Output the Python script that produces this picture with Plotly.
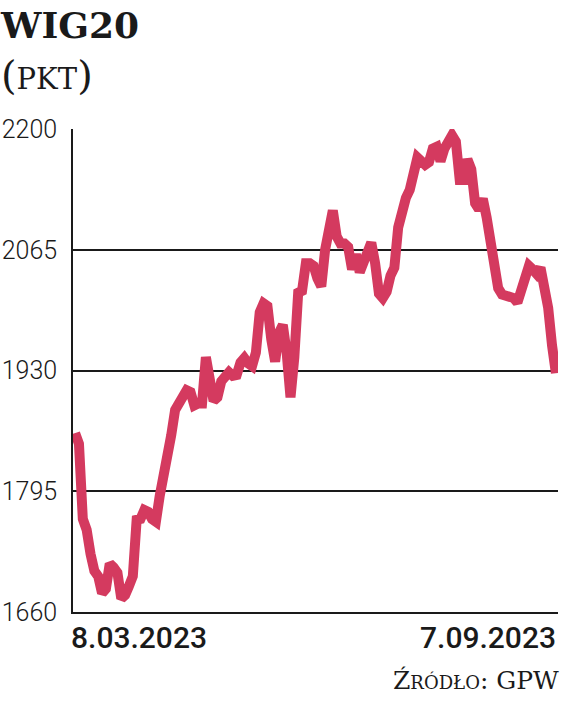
import pandas as pd
import plotly.graph_objects as go

# ---- data ----
start_date = "2023-03-08"
end_date = "2023-09-07"
holidays = ["2023-04-07", "2023-04-10", "2023-05-01", "2023-05-03", "2023-06-08", "2023-08-15"]
values = [
    1860, 1848, 1764, 1752, 1725, 1706, 1700, 1681, 1686, 1714,
    1710, 1704, 1675, 1679, 1689, 1700, 1763, 1764, 1774, 1772,
    1764, 1761, 1790, 1819, 1839, 1858, 1886, 1895, 1903, 1908,
    1906, 1891, 1893, 1893, 1945, 1925, 1896, 1900, 1918, 1923,
    1928, 1924, 1925, 1939, 1944, 1938, 1935, 1950, 1995, 2005,
    2002, 1965, 1940, 1972, 1981, 1950, 1900, 1945, 2017, 2019,
    2050, 2050, 2047, 2033, 2024, 2065, 2095, 2109, 2080, 2072,
    2072, 2068, 2043, 2060, 2040, 2049, 2063, 2073, 2050, 2016,
    2011, 2018, 2036, 2045, 2090, 2114, 2123, 2132, 2156, 2168,
    2164, 2160, 2163, 2178, 2180, 2164, 2178, 2189, 2193, 2186,
    2143, 2143, 2166, 2155, 2117, 2110, 2122, 2101, 2074, 2038,
    2022, 2015, 2014, 2012, 2011, 2006, 2020, 2042, 2047, 2043,
    2038, 2045, 2020, 2000, 1958, 1927,
]
y_ticks = [1660, 1795, 1930, 2065, 2200]
x_labels = ["8.03.2023", "7.09.2023"]
title_text = "WIG20"
unit_text = "PKT"
source_text = "Źródło: GPW"

days = pd.bdate_range(start_date, end_date)
days = [d for d in days if d.strftime("%Y-%m-%d") not in holidays]
dates = [d.strftime("%Y-%m-%d") for d in days][: len(values)]

LINE = "#d43a5f"
INK = "#1a1a1a"
W, H = 564, 702
# plot area in page pixels: left 73, right 558, top 129, bottom 612
ML = 73
MR = W - 558
MT = 129
MB = H - 612
PW = W - ML - MR
PH = H - MT - MB

def px(x):  # page pixel -> paper
    return (x - ML) / PW

def py(y):
    return (H - MB - y) / PH

fig = go.Figure()
fig.add_trace(go.Scatter(
    x=dates, y=values, mode="lines",
    line=dict(color=LINE, width=10, shape="linear"),
    cliponaxis=False, hoverinfo="skip",
))

fig.update_layout(
    width=W, height=H,
    margin=dict(l=ML, r=MR, t=MT, b=MB, pad=0),
    paper_bgcolor="white", plot_bgcolor="white",
    showlegend=False,
    xaxis=dict(
        type="category",
        range=[-0.55, len(dates) - 0.45],
        automargin=False,
        showgrid=False, zeroline=False,
        showline=True, linecolor=INK, linewidth=1.6,
        showticklabels=False, ticks="",
    ),
    yaxis=dict(
        range=[y_ticks[0], y_ticks[-1]],
        automargin=False,
        tickvals=y_ticks, ticktext=[str(v) for v in y_ticks],
        showgrid=True, gridcolor=INK, gridwidth=1.6,
        zeroline=False,
        showline=True, linecolor=INK, linewidth=1.6,
        ticks="", ticklabelstandoff=9,
        tickfont=dict(family="Roboto, sans-serif", size=25, color=INK, weight=300),
    ),
)

annotations = [
    dict(text=title_text, xref="paper", yref="paper", x=px(-2), y=py(2),
         xanchor="left", yanchor="top", showarrow=False,
         font=dict(family="DejaVu Serif", size=36, color=INK, weight="bold")),
    dict(text="(<span style='font-size:29px'>" + unit_text + "</span>)",
         xref="paper", yref="paper", x=px(-1), y=py(50),
         xanchor="left", yanchor="top", showarrow=False,
         font=dict(family="DejaVu Serif", size=40, color=INK)),
    dict(text=x_labels[0], xref="x", yref="paper", x=dates[0], y=0,
         xanchor="left", yanchor="top", xshift=-6, yshift=-6, showarrow=False,
         font=dict(family="Roboto", size=30, color=INK, weight=500)),
    dict(text=x_labels[1], xref="x", yref="paper", x=dates[-1], y=0,
         xanchor="right", yanchor="top", xshift=2, yshift=-6, showarrow=False,
         font=dict(family="Roboto", size=30, color=INK, weight=500)),
    dict(text=source_text, xref="paper", yref="paper", x=px(561), y=py(664),
         xanchor="right", yanchor="top", showarrow=False,
         font=dict(family="DejaVu Serif", size=25, color=INK, variant="small-caps")),
]
fig.update_layout(annotations=annotations)

fig.write_html("out.html", config={"displayModeBar": False},
               post_script="document.body.style.margin='0px';")
